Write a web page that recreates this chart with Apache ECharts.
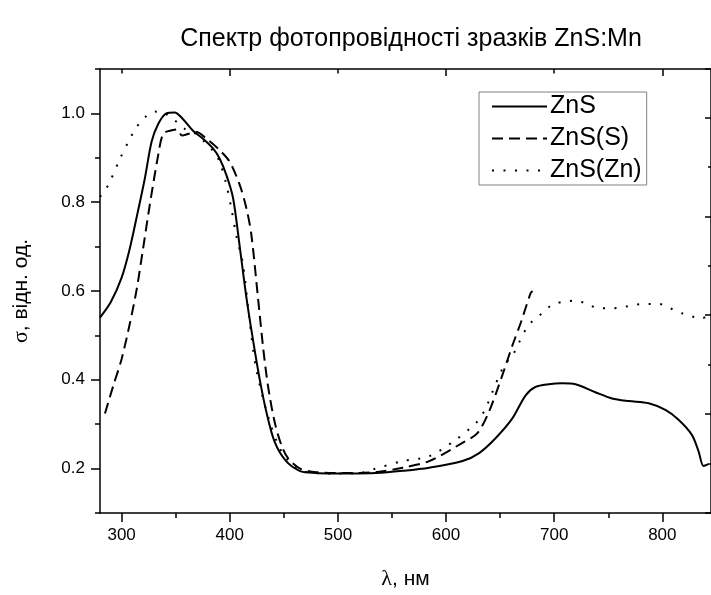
<!DOCTYPE html>
<html><head><meta charset="utf-8">
<script src="https://cdn.jsdelivr.net/npm/echarts@6/dist/echarts.min.js"></script>
<style>html,body{margin:0;padding:0;background:#fff}#c{width:711px;height:595px}</style>
</head><body><div id="c"></div>
<script>
const titleText = 'Спектр фотопровідності зразків ZnS:Mn';
const seriesNames = ['ZnS', 'ZnS(S)', 'ZnS(Zn)'];

const xMajorTicks = [300, 400, 500, 600, 700, 800];
const xMinorTicks = [350, 450, 550, 650, 750];
const topMajorTicks = [400, 600, 800];
const topMinorTicks = [300, 500, 700];
const yMajorTicks = [0.2, 0.4, 0.6, 0.8, 1.0];
const yMinorTicks = [0.1, 0.3, 0.5, 0.7, 0.9, 1.1];

const znsX = [280, 290, 300, 307, 313.8, 321.5, 327.7, 333.8, 341.4, 349, 356.8, 366, 375.3, 384.5, 390.7, 396.9, 403, 409.2, 415.3, 421.4, 427.6, 433.8, 441.4, 452.1, 464.5, 473.7, 490, 510, 535, 560, 584.4, 615.2, 630.6, 646, 661.3, 673.6, 682.8, 695, 707.4, 719.7, 738.1, 753.5, 769, 787.4, 802.8, 815, 827.3, 833.5, 838.1, 842.7];
const znsY = [0.540, 0.575, 0.630, 0.690, 0.765, 0.854, 0.936, 0.976, 1.000, 1.002, 0.987, 0.961, 0.943, 0.921, 0.898, 0.861, 0.810, 0.700, 0.587, 0.491, 0.402, 0.328, 0.261, 0.217, 0.195, 0.191, 0.189, 0.189, 0.190, 0.195, 0.202, 0.217, 0.235, 0.269, 0.313, 0.365, 0.384, 0.390, 0.392, 0.390, 0.372, 0.358, 0.352, 0.347, 0.332, 0.310, 0.276, 0.239, 0.206, 0.210];

const znsSX = [284.6, 292.3, 300, 307.7, 313.8, 319.3, 326.1, 333.8, 338.4, 344.6, 351, 356, 362, 369.1, 378.4, 390.7, 399.9, 409.2, 415.3, 419.9, 426, 430.7, 435.3, 441.4, 447.6, 453.7, 465, 480, 510, 538.3, 559.8, 584.4, 615.2, 629, 640, 652, 661.3, 669, 678.2, 680];
const znsSY = [0.324, 0.387, 0.447, 0.528, 0.602, 0.687, 0.795, 0.906, 0.954, 0.961, 0.964, 0.950, 0.954, 0.958, 0.943, 0.917, 0.891, 0.839, 0.787, 0.728, 0.587, 0.476, 0.387, 0.306, 0.254, 0.224, 0.200, 0.192, 0.190, 0.193, 0.202, 0.217, 0.258, 0.280, 0.330, 0.410, 0.477, 0.528, 0.595, 0.600];

const znsZnX = [280, 287.7, 298.5, 307.7, 313.8, 321.5, 330.7, 338.4, 349.2, 358.4, 366.1, 375.3, 385.5, 390.7, 396.9, 401.4, 406, 412.2, 418, 424.5, 436.8, 446, 452.1, 462, 475, 500, 520, 532.1, 560, 584.4, 609, 629, 636.7, 642.8, 653.6, 661.3, 667.5, 673.6, 679.7, 689, 698.2, 709, 719.7, 730.4, 741.2, 753.5, 764.3, 775.1, 785.8, 796.7, 807.3, 818.1, 827.3, 835, 841];
const znsZnY = [0.812, 0.839, 0.898, 0.943, 0.969, 0.991, 1.004, 1.002, 0.984, 0.965, 0.958, 0.939, 0.913, 0.891, 0.839, 0.787, 0.725, 0.661, 0.540, 0.424, 0.306, 0.247, 0.224, 0.200, 0.191, 0.189, 0.190, 0.198, 0.217, 0.228, 0.265, 0.306, 0.336, 0.372, 0.432, 0.454, 0.484, 0.513, 0.532, 0.550, 0.569, 0.576, 0.578, 0.571, 0.561, 0.561, 0.564, 0.569, 0.571, 0.571, 0.561, 0.550, 0.543, 0.537, 0.543];

const FONT = "'Liberation Sans', Arial, sans-serif";
const pairs = (xs, ys) => xs.map((x, i) => [x, ys[i]]);
const axisCol = '#000';

const chart = echarts.init(document.getElementById('c'), null, {renderer: 'canvas'});
const lineBase = {type: 'line', symbol: 'none', smooth: 0.3, clip: true, xAxisIndex: 0, yAxisIndex: 0};

chart.setOption({
  backgroundColor: '#fff',
  animation: false,
  title: {
    text: titleText, left: 406, top: 22, textAlign: 'center',
    textStyle: {fontFamily: FONT, fontSize: 25, fontWeight: 'normal', color: '#000'}
  },
  legend: {
    orient: 'vertical', left: 479, top: 92,
    data: seriesNames,
    padding: [2, 5, 2, 12], itemGap: 7, itemWidth: 55, itemHeight: 16,
    borderColor: '#808080', borderWidth: 1, backgroundColor: '#fff',
    itemStyle: {color: 'rgba(0,0,0,0)', borderWidth: 0, opacity: 0},
    textStyle: {fontFamily: FONT, fontSize: 25, color: '#000', padding: [0,0,0,-2]}
  },
  grid: {left: 100, top: 69, width: 612.5, height: 450, containLabel: false},
  xAxis: [
    {type: 'value', position: 'bottom', min: 280, max: 845,
     name: '{l|λ}, нм', nameLocation: 'middle', nameGap: 55,
     nameTextStyle: {fontFamily: FONT, fontSize: 21, color: '#000',
       rich: {l: {fontFamily: "'Liberation Serif', serif", fontSize: 22, color: '#000'}}},
     axisLine: {onZero: false, lineStyle: {color: axisCol, width: 1.5}},
     axisTick: {customValues: xMajorTicks, length: 9, lineStyle: {color: axisCol, width: 1.5}},
     axisLabel: {customValues: xMajorTicks, fontFamily: FONT, fontSize: 17, color: '#000', margin: 14},
     splitLine: {show: false}},
    {type: 'value', position: 'bottom', min: 280, max: 845,
     axisLine: {show: false, onZero: false},
     axisTick: {customValues: xMinorTicks, length: 5, lineStyle: {color: axisCol, width: 1.5}},
     axisLabel: {show: false}, splitLine: {show: false}},
    {type: 'value', position: 'top', min: 280, max: 845,
     axisLine: {onZero: false, lineStyle: {color: axisCol, width: 1.5}},
     axisTick: {inside: true, customValues: topMajorTicks, length: 7, lineStyle: {color: axisCol, width: 1.5}},
     axisLabel: {show: false}, splitLine: {show: false}},
    {type: 'value', position: 'top', min: 280, max: 845,
     axisLine: {show: false, onZero: false},
     axisTick: {inside: true, customValues: topMinorTicks, length: 4.5, lineStyle: {color: axisCol, width: 1.5}},
     axisLabel: {show: false}, splitLine: {show: false}}
  ],
  yAxis: [
    {type: 'value', position: 'left', min: 0.1, max: 1.1,
     name: '{s|σ}, відн. од.', nameLocation: 'middle', nameGap: 68, nameRotate: 90,
     nameTextStyle: {fontFamily: FONT, fontSize: 21, color: '#000',
       rich: {s: {fontFamily: "'Liberation Serif', serif", fontSize: 22, color: '#000'}}},
     axisLine: {onZero: false, lineStyle: {color: axisCol, width: 1.5}},
     axisTick: {customValues: yMajorTicks, length: 9, lineStyle: {color: axisCol, width: 1.5}},
     axisLabel: {customValues: yMajorTicks, formatter: v => v.toFixed(1), fontFamily: FONT, fontSize: 17, color: '#000', margin: 15},
     splitLine: {show: false}},
    {type: 'value', position: 'left', min: 0.1, max: 1.1,
     axisLine: {show: false, onZero: false},
     axisTick: {customValues: yMinorTicks, length: 5, lineStyle: {color: axisCol, width: 1.5}},
     axisLabel: {show: false}, splitLine: {show: false}},
    {type: 'value', position: 'right', min: 0, max: 4.49, interval: 1,
     axisLine: {onZero: false, lineStyle: {color: axisCol, width: 1.5}},
     axisTick: {inside: true, length: 6, lineStyle: {color: axisCol, width: 1.5}},
     minorTick: {show: true, splitNumber: 2, length: 3, lineStyle: {color: axisCol, width: 1.5}},
     axisLabel: {show: false}, splitLine: {show: false}, minorSplitLine: {show: false}}
  ],
  series: [
    Object.assign({}, lineBase, {name: seriesNames[0], data: pairs(znsX, znsY),
      lineStyle: {color: '#000', width: 2, type: 'solid'}, itemStyle: {color: '#000'}}),
    Object.assign({}, lineBase, {name: seriesNames[1], data: pairs(znsSX, znsSY),
      lineStyle: {color: '#000', width: 2, type: [11, 6]}, itemStyle: {color: '#000'}}),
    Object.assign({}, lineBase, {name: seriesNames[2], data: pairs(znsZnX, znsZnY),
      lineStyle: {color: '#000', width: 2, type: [2, 9.5]}, itemStyle: {color: '#000'}})
  ]
});
</script></body></html>
